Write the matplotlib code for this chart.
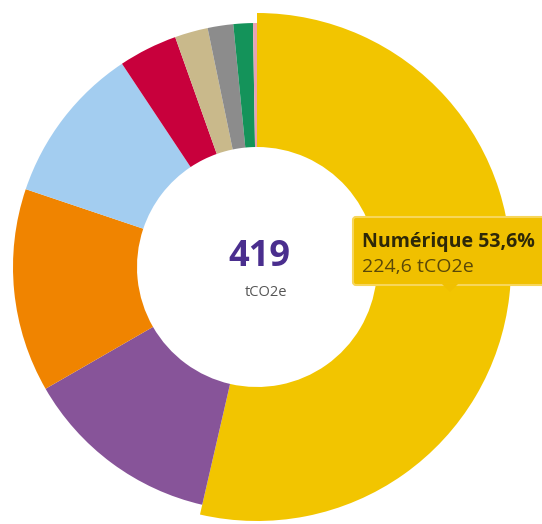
import matplotlib
matplotlib.use("Agg")
import matplotlib.pyplot as plt
from matplotlib.patches import FancyBboxPatch, Polygon

categories = ["Numérique", "Déplacements", "Énergie", "Achats", "Immobilisations",
              "Déchets", "Fret", "Alimentation", "Autres"]
values = [224.6, 54.8, 56.5, 44.0, 16.3, 9.2, 7.1, 5.4, 1.1]
colors = ["#F2C500", "#875499", "#F08400", "#A3CDF0", "#C8003C",
          "#C9B98B", "#8C8C8C", "#14935A", "#E9A3B4"]
total_label = "419"
unit_label = "tCO2e"
tooltip_title = "Numérique 53,6%"
tooltip_value = "224,6 tCO2e"

W, H = 542, 524
fig = plt.figure(figsize=(W / 100, H / 100), dpi=100)
ax = fig.add_axes([0, 0, 1, 1])

cx, cy = 257, H - 267
R, r_in = 244, 120
wedges, _ = ax.pie(values, colors=colors, startangle=90, counterclock=False,
                   center=(cx, cy), radius=R,
                   wedgeprops=dict(width=R - r_in, linewidth=0))
# highlighted (hovered) slice drawn larger
wedges[0].set_radius(R + 10)
wedges[0].set_width(R + 10 - r_in)

ax.set_xlim(0, W)
ax.set_ylim(0, H)
ax.set_aspect("equal")
ax.axis("off")

font = ["Open Sans", "DejaVu Sans"]
ax.text(259, H - 257, total_label, ha="center", va="center", fontsize=26,
        fontweight="bold", color="#4A2E8E", family=font)
ax.text(266, H - 292, unit_label, ha="center", va="center", fontsize=10.5,
        color="#555555", family=font)

# tooltip
bx0, by0, bx1, by1 = 353, H - 285, 562, H - 217
box = FancyBboxPatch((bx0, by0), bx1 - bx0, by1 - by0,
                     boxstyle="round,pad=0,rounding_size=3",
                     facecolor="#F0C000", edgecolor="#F7D65A", linewidth=1.5, zorder=5)
ax.add_patch(box)
ax.add_patch(Polygon([(442, by0 + 1), (458, by0 + 1), (450, by0 - 7)],
                     closed=True, facecolor="#F0C000", edgecolor="none", zorder=6))
ax.text(362, H - 242, tooltip_title, ha="left", va="center", fontsize=14,
        fontweight="bold", color="#2E2808", family=font, zorder=7)
ax.text(362, H - 267, tooltip_value, ha="left", va="center", fontsize=14,
        color="#5A4808", family=font, zorder=7)

fig.savefig("out.png", dpi=100)
